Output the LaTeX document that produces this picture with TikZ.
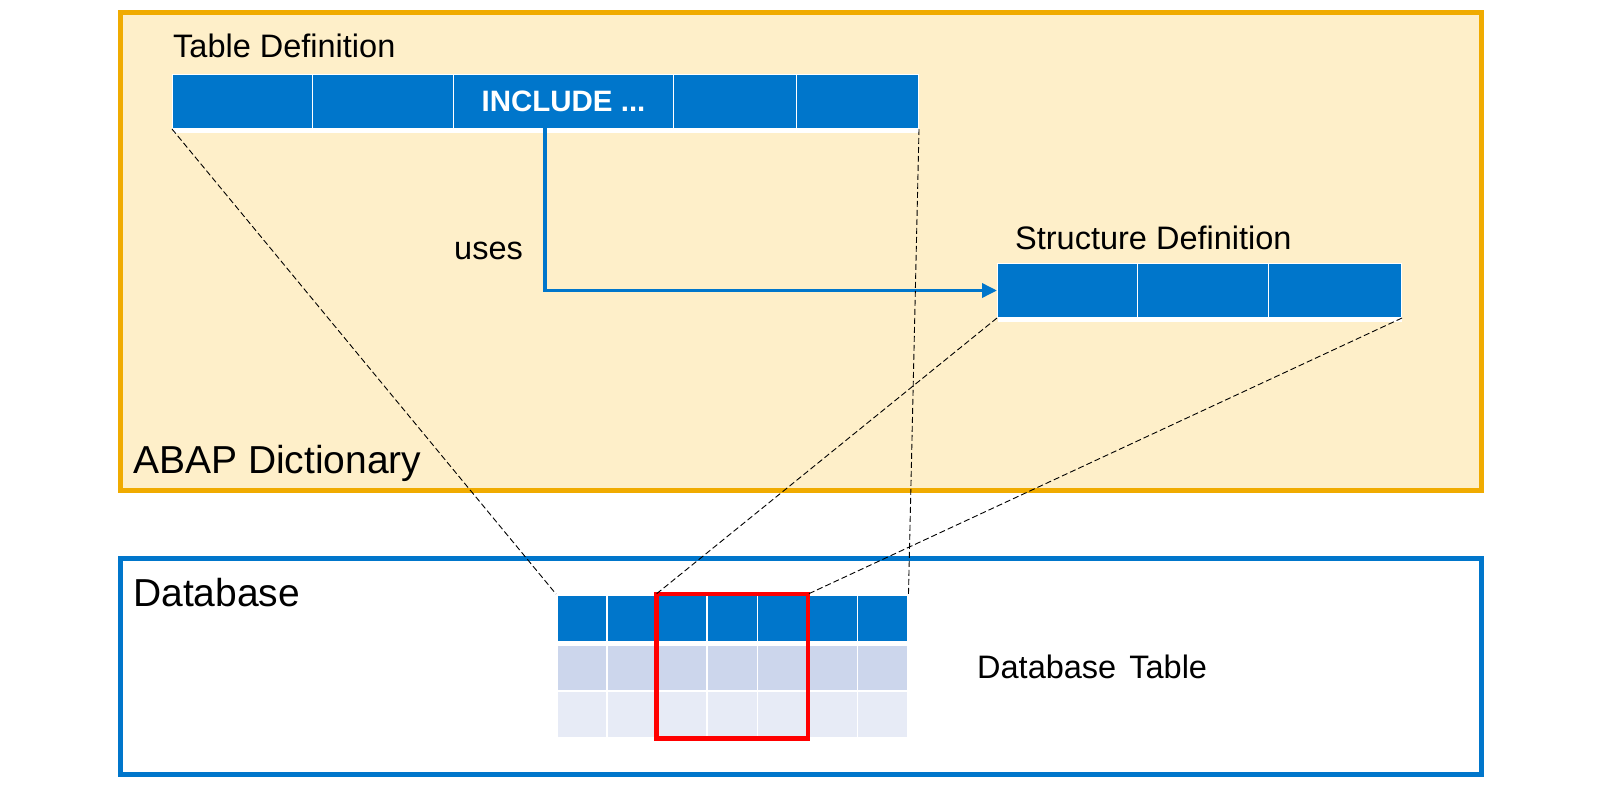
\documentclass[tikz,border=0pt]{standalone}
\usepackage{fontspec}
\setmainfont{Liberation Sans}
\usepackage{tikz}
\usetikzlibrary{arrows.meta}
\usetikzlibrary{shadows}
\definecolor{sapblue}{RGB}{0,118,203}
\definecolor{dictgold}{RGB}{240,171,0}
\definecolor{dictfill}{RGB}{254,239,201}
\definecolor{dbrowa}{RGB}{204,214,236}
\definecolor{dbrowb}{RGB}{231,235,246}
\newcommand{\lblfont}{\fontsize{32.5}{38}\selectfont}
\newcommand{\bigfont}{\fontsize{39}{44}\selectfont}
\newcommand{\fld}[5]{
  \node[field, minimum width=#4pt] (#1) at (#2,#3) {#5};
}
\tikzset{
  field/.style={draw=white, line width=1pt, fill=sapblue, minimum height=54pt,
    inner sep=0pt, anchor=north west, text=white,
    font=\fontsize{29.5}{34}\selectfont\bfseries,
    drop shadow={fill=white, opacity=1, shadow xshift=0pt, shadow yshift=-4.5pt}},
  dbcell/.style={draw=white, line width=1.5pt, minimum width=50.14pt,
    inner sep=0pt, anchor=north west},
  lbl/.style={anchor=base west, inner sep=0pt, font=\lblfont},
  connector/.style={dashed, dash pattern=on 6pt off 3pt, line width=0.9pt, black},
  usesline/.style={draw=sapblue, line width=3.5pt, -{Triangle[length=15pt, width=14pt]}}
}
\begin{document}
\begin{tikzpicture}[x=1pt, y=-1pt]
      \useasboundingbox (0,0) rectangle (1600,787);
      \draw[dictgold, fill=dictfill, line width=5pt] (120.5,12.5) rectangle (1481.5,490.5);
      \draw[sapblue, fill=white, line width=5pt] (120.5,558.5) rectangle (1481.5,774);
      \node[lbl, font=\bigfont] (abap) at (133,473) {ABAP Dictionary};
      \node[lbl, font=\bigfont] (dbase) at (133,606) {Database};
      \node[lbl] (tdeflbl) at (173,57) {Table Definition};
      \node[lbl] (sdeflbl) at (1015,249) {Structure Definition};
      \node[lbl] (useslbl) at (454,259) {uses};
      \node[lbl] (dbtablbl) at (977,678) {Database\hspace{4pt} Table};
      \fld{td1}{172}{74}{140}{}
      \fld{td2}{312}{74}{141}{}
      \fld{td3}{453}{74}{220}{INCLUDE ...}
      \fld{td4}{673}{74}{123}{}
      \fld{td5}{796}{74}{122}{}
      \fld{sd1}{997}{263}{140}{}
      \fld{sd2}{1137}{263}{131}{}
      \fld{sd3}{1268}{263}{133}{}
      \foreach \r/\ry/\rh/\rc in {1/594/47/sapblue, 2/644/46/dbrowa, 3/690/47/dbrowb} {
        \foreach \c in {1,...,7} {
          \node[dbcell, fill=\rc, minimum height=\rh pt] (db-\r-\c) at ({556+(\c-1)*50.14},\ry) {};
        }
      }
      \draw[red, line width=4.5pt] (db-1-3.north west) rectangle (db-3-5.south east);
      \coordinate (usesfrom) at (545,128);
      \draw[usesline] (usesfrom) |- (sd1.west);
      \draw[connector] (td1.south west) -- (db-1-1.north west);
      \draw[connector] (td5.south east) -- (db-1-7.north east);
      \draw[connector] (sd1.south west) -- (db-1-3.north west);
      \draw[connector] (sd3.south east) -- (db-1-5.north east);
  \end{tikzpicture}
\end{document}
